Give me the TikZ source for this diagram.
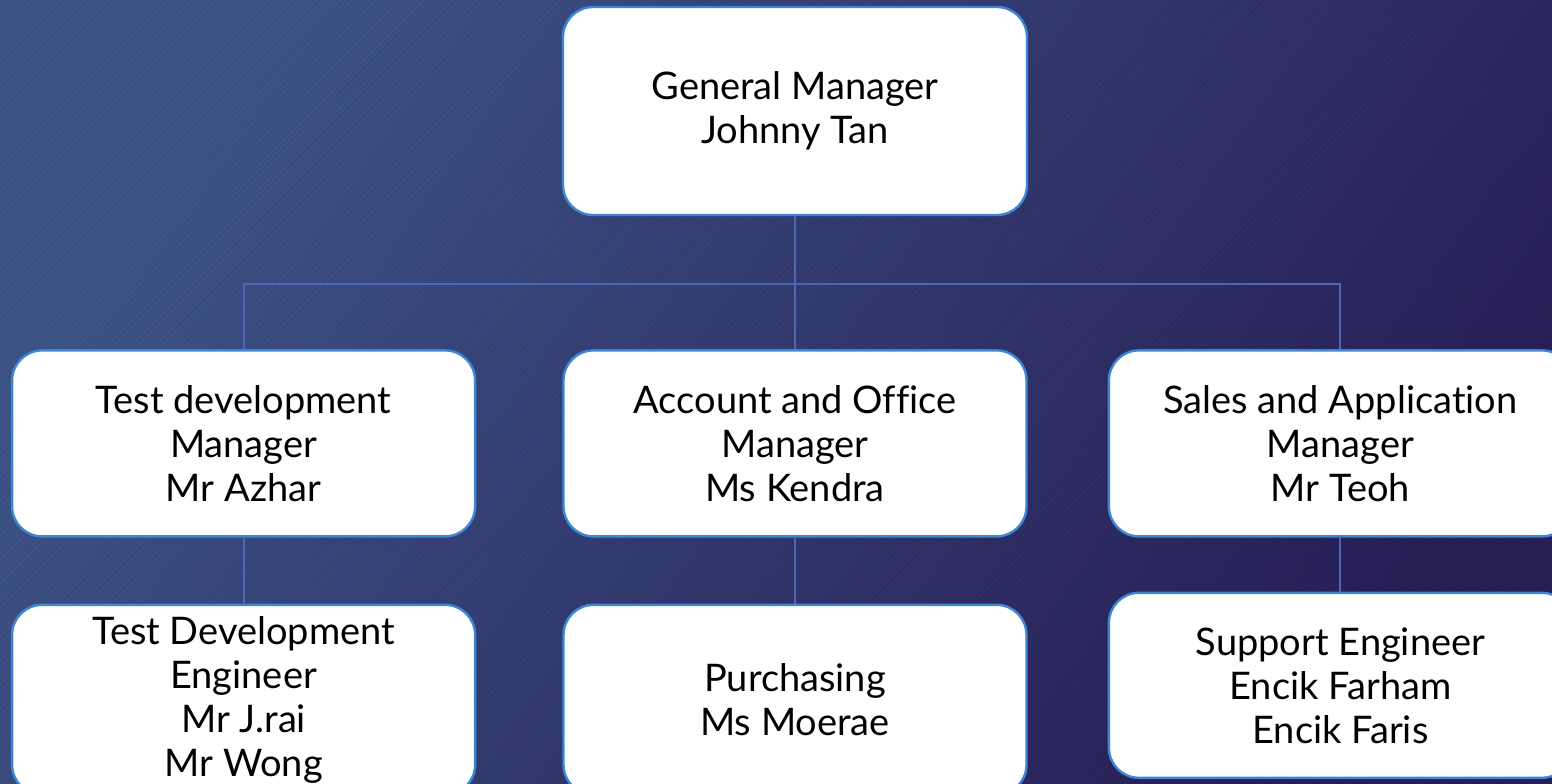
\documentclass[tikz,border=0pt]{standalone}
\usepackage{fontspec}
\setmainfont{Lato}[Ligatures={NoCommon}]
\usetikzlibrary{positioning, patterns.meta, calc}

\definecolor{bgtl}{HTML}{3D5487}
\definecolor{bgbr}{HTML}{281F57}
\definecolor{boxedge}{HTML}{3C86D6}
\definecolor{linkblue}{HTML}{4A67B8}

\begin{document}
\begin{tikzpicture}[
		x=0.5pt, y=-0.5pt,
		% Box Styles
		role_box/.style={rectangle, rounded corners=15pt, draw=boxedge, fill=white, line width=1.2pt, minimum width=231.5pt, minimum height=93pt, align=center, inner sep=4pt, font=\fontsize{19}{22}\selectfont},
		top_box/.style={role_box, minimum width=232pt, minimum height=104pt},
		% Edge Styles
		link_edge/.style={draw=linkblue, line width=1pt}
		]
		
		% --- BACKGROUND ---
		\useasboundingbox (0,0) rectangle (1552,783);
		\shade[left color=bgtl, right color=bgbr, shading angle=55] (0,0) rectangle (1552,783);
		\fill[pattern={Lines[angle=45, distance=2.1pt, line width=0.6pt]}, pattern color=black, opacity=0.05] (0,0) rectangle (1552,783);
		\clip (0,0) rectangle (1552,783);
		
		% --- 1. TOP LEVEL ---
		\node[top_box] (GM) at (795,111) {General Manager\\Johnny Tan};
		
		% --- 2. MANAGERS ---
		\node[role_box, below=66.5pt of GM] (AcctMgr) {Account and Office\\Manager\\Ms Kendra};
		\node[role_box, left=43pt of AcctMgr] (TestMgr) {Test development\\Manager\\Mr Azhar};
		\node[role_box, right=40pt of AcctMgr] (SalesMgr) {Sales and Application\\Manager\\Mr Teoh};
		
		% --- 3. STAFF ---
		\node[role_box, minimum height=95pt, below=33pt of TestMgr] (TestEng) {Test Development\\Engineer\\Mr J.rai\\Mr Wong};
		\node[role_box, minimum height=95pt, below=33pt of AcctMgr] (Purch) {Purchasing\\Ms Moerae};
		\node[role_box, minimum height=92.5pt, below=27pt of SalesMgr] (SupEng) {Support Engineer\\Encik Farham\\Encik Faris};
		
		% ================= LINKS =================
		\draw[link_edge] (GM.south) -- ++(0,68) -| (TestMgr.north);
		\draw[link_edge] (GM.south) -- ++(0,68) -| (AcctMgr.north);
		\draw[link_edge] (GM.south) -- ++(0,68) -| (SalesMgr.north);
		
		\draw[link_edge] (TestMgr.south) -- (TestEng.north);
		\draw[link_edge] (AcctMgr.south) -- (Purch.north);
		\draw[link_edge] (SalesMgr.south) -- (SupEng.north);
		
	\end{tikzpicture}
\end{document}
